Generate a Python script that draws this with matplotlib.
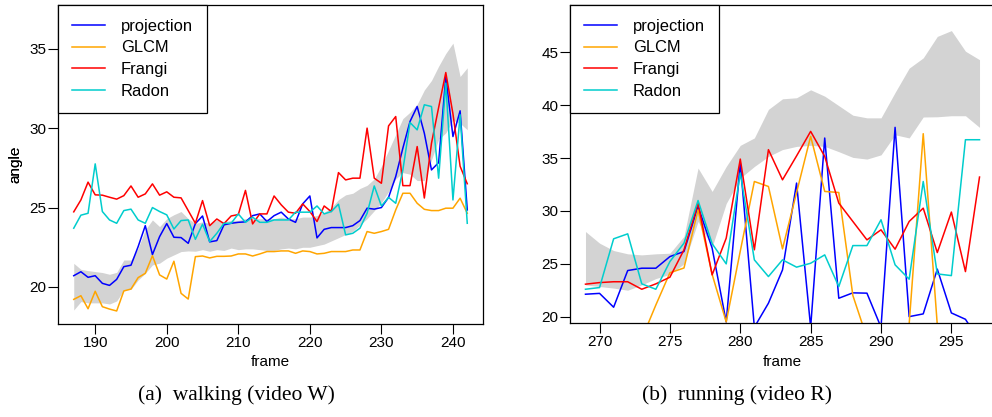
import numpy as np
import matplotlib.pyplot as plt
from matplotlib.transforms import Affine2D

plt.rcParams['font.family'] = ['Liberation Sans', 'DejaVu Sans']

# ---- (a) walking (video W) ----
frames_a = np.arange(187, 243)
proj_a = [20.71, 20.96, 20.61, 20.71, 20.23, 20.10, 20.48, 21.28, 21.37, 22.54,
          23.86, 22.04, 23.17, 23.99, 23.13, 23.11, 22.75, 23.99, 24.47, 22.84,
          22.92, 23.91, 24.01, 24.07, 24.10, 24.49, 24.60, 24.12, 24.49, 24.71,
          24.28, 24.07, 25.23, 25.73, 23.09, 23.63, 23.74, 23.74, 23.74, 23.86,
          24.18, 24.96, 24.90, 25.00, 25.64, 26.95, 28.74, 30.42, 31.36, 29.68,
          27.37, 27.83, 33.25, 29.47, 31.09, 24.85]
glcm_a = [19.22, 19.45, 18.63, 19.73, 18.76, 18.61, 18.49, 19.75, 19.87, 20.59,
          20.86, 21.97, 20.76, 20.50, 21.62, 19.60, 19.24, 21.91, 21.95, 21.83,
          21.93, 21.93, 21.95, 22.08, 22.08, 21.95, 22.08, 22.23, 22.23, 22.27,
          22.27, 22.12, 22.27, 22.23, 22.08, 22.12, 22.23, 22.23, 22.23, 22.33,
          22.33, 23.49, 23.38, 23.49, 23.63, 24.85, 25.90, 25.90, 25.27, 24.89,
          24.81, 24.81, 24.96, 24.96, 25.59, 24.64]
frangi_a = [24.73, 25.48, 26.60, 25.80, 25.78, 25.65, 25.53, 25.75, 26.36, 25.65,
            25.86, 26.49, 25.78, 25.99, 25.65, 25.61, 24.81, 24.01, 25.44, 23.86,
            24.28, 23.99, 24.47, 24.56, 26.08, 23.97, 24.60, 24.60, 25.73, 25.17,
            24.71, 24.64, 25.23, 24.75, 24.12, 25.10, 24.75, 27.20, 26.74, 26.85,
            26.85, 30.00, 26.85, 26.53, 30.14, 30.73, 26.38, 26.38, 28.84, 25.60,
            29.05, 31.30, 33.50, 30.90, 27.60, 26.50]
radon_a = [23.70, 24.52, 24.64, 27.75, 24.75, 24.22, 24.01, 24.81, 24.90, 24.22,
           24.01, 25.00, 24.75, 24.54, 23.65, 24.18, 24.22, 23.00, 23.95, 22.86,
           23.38, 24.01, 24.01, 24.60, 24.07, 24.39, 24.07, 24.07, 24.22, 24.22,
           24.22, 24.71, 24.71, 24.71, 25.10, 24.60, 24.75, 25.21, 23.28, 23.38,
           23.70, 24.64, 26.36, 25.10, 25.64, 25.27, 27.37, 30.35, 29.89, 31.47,
           31.36, 26.85, 32.83, 25.48, 30.84, 24.01]
band_lo_a = [18.55, 19.08, 19.00, 19.00, 19.00, 18.93, 19.12, 19.81, 19.85, 20.44,
             20.86, 21.39, 21.50, 21.81, 22.02, 22.23, 22.27, 22.25, 22.35, 22.25,
             22.35, 22.30, 22.45, 22.35, 22.40, 22.40, 22.35, 22.30, 22.30, 22.40,
             22.45, 22.40, 22.50, 22.50, 22.60, 22.70, 22.90, 23.10, 23.30, 23.50,
             23.90, 24.30, 24.80, 25.30, 26.00, 26.80, 27.20, 27.10, 26.70, 26.70,
             28.00, 29.30, 29.70, 30.50, 30.30, 29.90]
band_hi_a = [21.49, 21.11, 21.03, 20.97, 20.91, 20.80, 20.92, 21.70, 21.70, 22.44,
             23.60, 24.22, 23.80, 24.30, 24.55, 24.75, 24.30, 24.00, 24.10, 24.00,
             24.20, 24.10, 24.20, 24.20, 24.30, 24.30, 24.30, 24.30, 24.30, 24.40,
             24.30, 24.30, 24.40, 24.40, 24.50, 24.70, 25.00, 25.50, 25.80, 25.90,
             26.20, 26.40, 26.80, 27.60, 28.60, 29.60, 30.60, 31.00, 31.50, 32.40,
             33.00, 33.90, 34.70, 35.35, 33.25, 33.80]

# ---- (b) running (video R) ----
frames_b = np.arange(269, 298)
nan = np.nan
proj_b = [22.12, 22.20, 20.89, 24.36, 24.58, 24.58, 25.68, 26.16, 30.42, 26.48,
          19.50, 34.53, 19.00, 21.27, 24.42, 32.63, 19.00, 36.89, 21.74, 22.25,
          22.22, 19.00, 37.90, 20.00, 20.26, 24.49, 20.35, 19.75, 17.70]
glcm_b = [nan, nan, nan, nan, 17.90, 21.10, 24.15, 24.60, 30.10, 24.00,
          19.50, 26.20, 32.78, 32.31, 26.41, 31.73, 37.05, 31.84, 31.74, 22.00,
          18.00, nan, nan, 19.30, 37.30, 19.20, nan, nan, nan]
frangi_b = [23.07, 23.22, 23.30, 23.30, 22.59, 23.10, 23.73, 26.32, 30.74, 23.95,
            27.42, 34.90, 26.32, 35.79, 32.94, 35.20, 37.52, 35.15, 30.74, 29.00,
            27.26, 28.21, 26.38, 29.00, 30.26, 26.06, 29.89, 24.26, 33.20]
radon_b = [22.59, 22.75, 27.36, 27.83, 23.10, 22.59, 25.21, 26.95, 30.98, 26.90,
           24.99, 33.58, 25.37, 23.79, 25.37, 24.68, 25.05, 25.84, 22.84, 26.72,
           26.72, 29.16, 24.90, 23.54, 32.78, 24.04, 23.88, 36.73, 36.73]
band_lo_b = [23.00, 22.85, 22.70, 22.50, 23.00, 23.60, 24.00, 25.00, 29.00, 26.60,
             30.70, 33.10, 34.20, 35.15, 35.80, 36.10, 36.20, 36.10, 35.60, 35.06,
             34.90, 35.30, 37.20, 36.90, 38.88, 38.90, 39.00, 39.00, 37.90]
band_hi_b = [28.05, 26.95, 26.25, 25.94, 25.84, 25.94, 26.00, 27.60, 34.05, 31.84,
             34.20, 36.20, 36.90, 39.60, 40.60, 40.70, 41.45, 40.85, 39.95, 39.05,
             38.80, 38.80, 41.20, 43.50, 44.47, 46.50, 47.05, 45.10, 44.30]

methods = ['projection', 'GLCM', 'Frangi', 'Radon']
colors = ['#0000FF', '#FFA500', '#FF0000', '#00CDCD']

W, H = 992, 417
fig = plt.figure(figsize=(W / 100, H / 100), dpi=100)
# pixel coordinates of the image (y downwards)
pix = Affine2D().scale(1 / W, -1 / H).translate(0, 1) + fig.transFigure


def panel(x0, x1, y0, y1, frames, series, lo, hi, xlim, ylim, xticks, yticks):
    ax = fig.add_axes([x0 / W, 1 - y1 / H, (x1 - x0) / W, (y1 - y0) / H])
    ax.fill_between(frames, lo, hi, color='#D3D3D3', lw=0)
    for s, c, m in zip(series, colors, methods):
        ax.plot(frames, s, color=c, lw=1.1, label=m)
    ax.set_xlim(*xlim)
    ax.set_ylim(*ylim)
    ax.set_xticks(xticks)
    ax.set_yticks(yticks)
    ax.tick_params(direction='out', length=7, width=0.8, labelsize=11, pad=1.5)
    for sp in ax.spines.values():
        sp.set_linewidth(0.9)
    ax.set_xlabel('frame', fontsize=11)
    ax.set_ylabel('angle', fontsize=11)
    ax.xaxis.set_label_coords(0.5, -(362 - y1) / (y1 - y0))
    ax.xaxis.label.set_verticalalignment('center')
    ax.yaxis.set_label_coords(-(x0 - 15) / (x1 - x0), 0.5)
    ax.yaxis.label.set_verticalalignment('center')
    leg = ax.legend(loc='upper left', bbox_to_anchor=(0, 1), borderaxespad=0,
                    fancybox=False, edgecolor='black', framealpha=1,
                    fontsize=11.9, handlelength=2.0, handletextpad=0.95,
                    borderpad=0.85, labelspacing=0.4)
    leg.get_frame().set_linewidth(0.9)
    return ax


ax1 = panel(58, 483, 4.7, 324, frames_a, [proj_a, glcm_a, frangi_a, radon_a],
            band_lo_a, band_hi_a, (184.8, 244.2), (17.67, 37.77),
            range(190, 241, 10), range(20, 36, 5))
ax2 = panel(570, 995, 4.7, 323.3, frames_b, [proj_b, glcm_b, frangi_b, radon_b],
            band_lo_b, band_hi_b, (267.9, 298.1), (19.37, 49.5),
            range(270, 296, 5), range(20, 46, 5))

cap = dict(transform=pix, ha='center', va='center', fontsize=15.5,
           family=['Liberation Serif', 'DejaVu Serif'])
fig.text(236, 395, '(a)  walking (video W)', **cap)
fig.text(737, 395, '(b)  running (video R)', **cap)

fig.savefig('out.png', dpi=100)
